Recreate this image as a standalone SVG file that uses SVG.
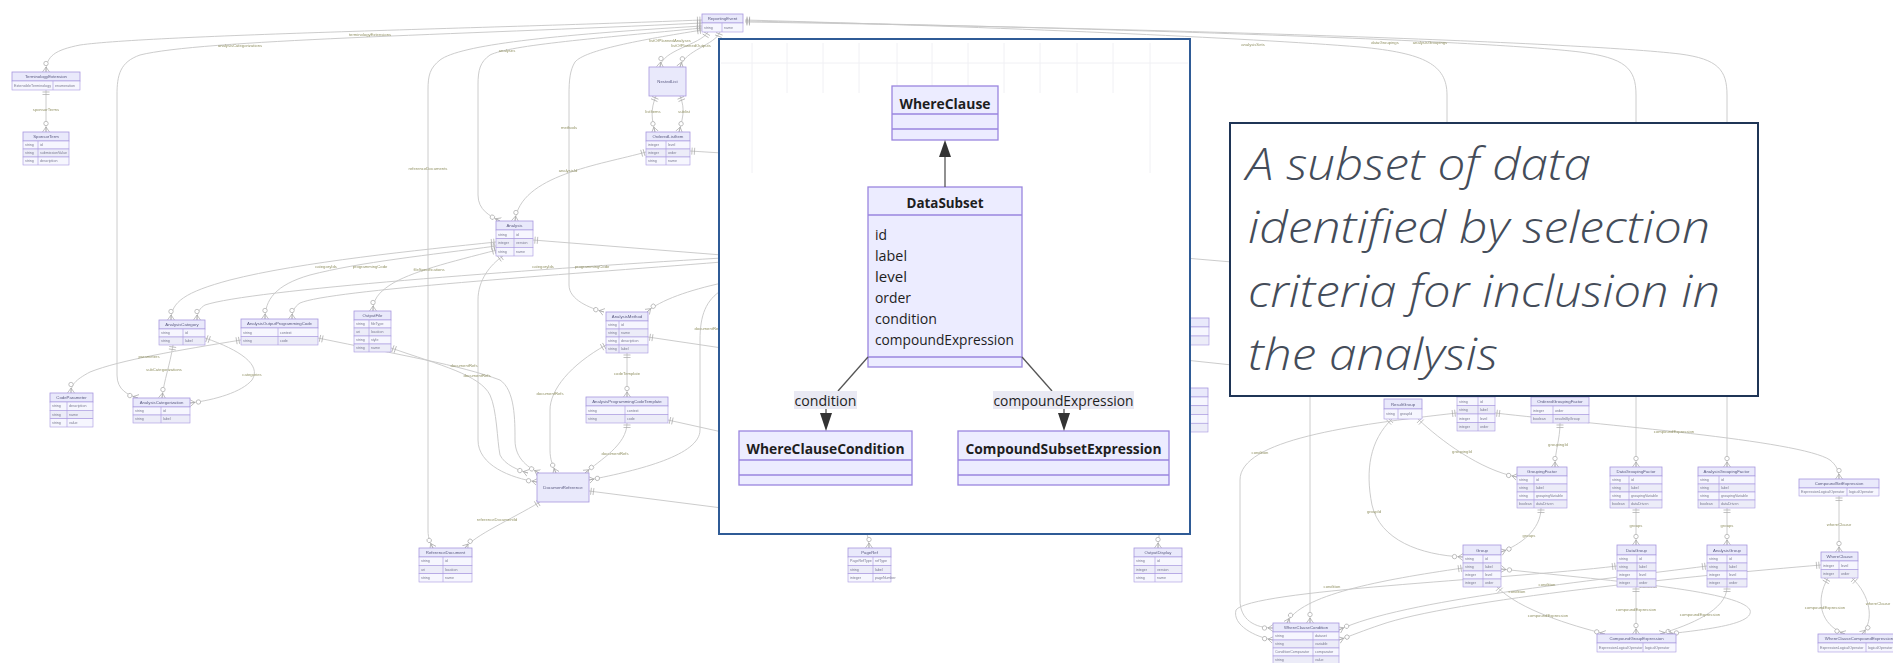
<svg xmlns="http://www.w3.org/2000/svg" width="1893" height="663" viewBox="0 0 1893 663">
<style>
  .c{fill:none;stroke:#c6c6c6;stroke-width:0.9}
  .eh{fill:#e9e9fb;stroke:#a797df;stroke-width:0.8}
  .ra{fill:#f6f6fe;stroke:#a797df;stroke-width:0.6}
  .rb{fill:#ececf8;stroke:#a797df;stroke-width:0.6}
  .cd{stroke:#a797df;stroke-width:0.6}
  .et{font-family:"Liberation Sans",Arial,sans-serif;font-size:4.3px;fill:#5a5a80;text-anchor:middle}
  .at{font-family:"Liberation Sans",Arial,sans-serif;font-size:3.6px;fill:#7a7a92}
  .el{font-family:"Liberation Sans",Arial,sans-serif;font-size:4.2px;fill:#939366;text-anchor:middle}
  .nb{fill:#ececff;stroke:#9a86df;stroke-width:1.3}
  .nt{font-family:"Open Sans","Noto Sans",sans-serif;font-weight:bold;font-size:15px;fill:#1e1e1e;text-anchor:middle}
  .na{font-family:"Open Sans","Noto Sans",sans-serif;font-size:15px;fill:#1e1e1e}
  .ie{fill:none;stroke:#555;stroke-width:1.3}
  .ah{fill:#333}
  .lb{fill:#e9e9f3}
  .ct{font-family:"Open Sans","Noto Sans",sans-serif;font-style:italic;font-weight:300;font-size:44px;fill:#444c59}
</style>
<defs>
  <filter id="soft" x="-2%" y="-2%" width="104%" height="104%"><feGaussianBlur stdDeviation="0.45"/></filter>
  <marker id="mZm" viewBox="0 -5 12 10" refX="12" refY="0" markerWidth="12" markerHeight="10" orient="auto-start-reverse" markerUnits="userSpaceOnUse">
    <circle cx="3.5" cy="0" r="2.2" fill="#fff" stroke="#a8a8a8" stroke-width="0.7"/>
    <path d="M7,0 L12,-3.5 M7,0 L12,3.5 M7,0 H12" fill="none" stroke="#a8a8a8" stroke-width="0.7"/>
  </marker>
  <marker id="mOne" viewBox="0 -5 12 10" refX="12" refY="0" markerWidth="12" markerHeight="10" orient="auto-start-reverse" markerUnits="userSpaceOnUse">
    <path d="M7.5,-3.5 V3.5 M10,-3.5 V3.5" fill="none" stroke="#a8a8a8" stroke-width="0.7"/>
  </marker>
</defs>
<rect width="1893" height="663" fill="#ffffff"/>

<!-- entity-relationship model underneath -->
<g id="background" filter="url(#soft)">
<g id="connectors">
  <path class="c" marker-start="url(#mOne)" marker-end="url(#mZm)" d="M702,20 C500,28 150,35 80,45 C55,50 46,56 46,72"/>
  <path class="c" marker-start="url(#mOne)" marker-end="url(#mZm)" d="M702,23 C450,35 200,40 140,55 C120,62 117,75 117,95 L117,375 C117,390 128,395 138,398"/>
  <path class="c" marker-start="url(#mOne)" marker-end="url(#mZm)" d="M702,26 C550,35 460,45 440,60 C430,68 428,75 428,90 L428,530 C428,540 431,544 433,548"/>
  <path class="c" marker-start="url(#mOne)" marker-end="url(#mZm)" d="M702,28 C600,38 510,45 490,55 C480,62 478,70 478,85 L478,195 C478,210 490,216 500,221"/>
  <path class="c" marker-start="url(#mOne)" marker-end="url(#mZm)" d="M702,30 C640,40 585,50 575,62 C570,70 569,80 569,95 L569,285 C569,300 590,308 604,312"/>
  <path class="c" marker-start="url(#mOne)" marker-end="url(#mZm)" d="M708,32 C700,45 662,50 660,67"/>
  <path class="c" marker-start="url(#mOne)" marker-end="url(#mZm)" d="M720,32 C715,45 685,50 680,67"/>
  <path class="c" marker-start="url(#mOne)" marker-end="url(#mZm)" d="M656,96 C650,110 652,120 655,132"/>
  <path class="c" marker-start="url(#mOne)" marker-end="url(#mZm)" d="M680,96 C686,110 682,120 679,132"/>
  <path class="c" marker-start="url(#mOne)" marker-end="url(#mZm)" d="M646,152 C600,165 520,175 515,221"/>
  <path class="c" marker-start="url(#mOne)" d="M690,151 L722,153"/>
  <path class="c" marker-start="url(#mOne)" d="M533,240 L722,255"/>
  <path class="c" marker-end="url(#mZm)" d="M722,258 C520,270 250,290 205,305 C200,308 197,312 197,320"/>
  <path class="c" marker-end="url(#mZm)" d="M722,262 C560,275 330,290 300,303 C294,307 292,312 292,319"/>
  <path class="c" marker-start="url(#mOne)" marker-end="url(#mZm)" d="M496,242 C420,250 300,262 230,280 C185,292 171,302 171,320"/>
  <path class="c" marker-start="url(#mOne)" marker-end="url(#mZm)" d="M496,246 C430,255 360,262 310,275 C275,285 265,300 265,319"/>
  <path class="c" marker-start="url(#mOne)" marker-end="url(#mZm)" d="M497,250 C450,262 410,272 390,285 C378,293 373,300 373,311"/>
  <path class="c" marker-start="url(#mOne)" marker-end="url(#mZm)" d="M318,338 C400,355 460,365 500,380 C515,390 515,420 515,440 C515,460 530,468 539,473"/>
  <path class="c" marker-start="url(#mOne)" marker-end="url(#mZm)" d="M391,348 C440,365 480,375 490,395 C497,410 497,440 500,455 C505,465 518,470 528,473"/>
  <path class="c" marker-start="url(#mOne)" marker-end="url(#mZm)" d="M503,256 C490,265 478,280 478,300 L478,440 C478,465 510,478 537,482"/>
  <path class="c" marker-start="url(#mOne)" marker-end="url(#mZm)" d="M606,345 C570,365 550,390 550,410 L550,450 C550,460 553,466 556,473"/>
  <path class="c" marker-start="url(#mOne)" marker-end="url(#mZm)" d="M627,353 L627,397"/>
  <path class="c" marker-start="url(#mOne)" marker-end="url(#mZm)" d="M627,423 C627,445 600,460 585,473"/>
  <path class="c" marker-end="url(#mZm)" d="M722,290 C706,300 700,315 700,340 L700,430 C700,455 640,470 589,480"/>
  <path class="c" marker-start="url(#mOne)" d="M648,337 L722,348"/>
  <path class="c" marker-start="url(#mOne)" d="M668,420 L722,432"/>
  <path class="c" marker-start="url(#mOne)" d="M589,491 L722,508"/>
  <path class="c" marker-end="url(#mZm)" d="M722,283 C690,290 660,300 647,312"/>
  <path class="c" marker-start="url(#mOne)" marker-end="url(#mZm)" d="M540,502 C510,520 475,535 465,548"/>
  <path class="c" marker-start="url(#mOne)" marker-end="url(#mZm)" d="M173,345 C170,365 164,380 162,398"/>
  <path class="c" marker-start="url(#mOne)" marker-end="url(#mZm)" d="M205,338 C240,350 262,365 252,380 C242,392 215,400 190,403"/>
  <path class="c" marker-start="url(#mOne)" marker-end="url(#mZm)" d="M241,340 C180,350 120,360 90,372 C75,380 71,385 71,393"/>
  <path class="c" marker-start="url(#mOne)" marker-end="url(#mZm)" d="M46,90 L46,132"/>
  <path class="c" marker-end="url(#mZm)" d="M862,520 C866,530 869,538 869,548"/>
  <path class="c" marker-end="url(#mZm)" d="M1162,520 C1160,530 1158,538 1158,548"/>
  <path class="c" d="M1185,258 L1232,262"/>
  <path class="c" d="M1185,360 L1232,365"/>
  <!-- right-hand part -->
  <path class="c" marker-start="url(#mOne)" d="M745,20 C1000,27 1250,38 1360,47 C1425,53 1447,65 1447,95 L1447,300"/>
  <path class="c" marker-start="url(#mOne)" marker-end="url(#mZm)" d="M745,21 C1100,28 1480,40 1580,52 C1625,58 1636,68 1636,95 L1636,467"/>
  <path class="c" marker-start="url(#mOne)" marker-end="url(#mZm)" d="M745,22 C1150,28 1580,42 1680,54 C1718,59 1727,70 1727,95 L1727,467"/>
  <path class="c" marker-end="url(#mZm)" d="M1447,300 C1447,330 1310,330 1310,360 L1310,623"/>
  <path class="c" marker-start="url(#mOne)" marker-end="url(#mZm)" d="M1392,419 C1370,440 1365,470 1372,505 C1380,540 1420,555 1463,557"/>
  <path class="c" marker-start="url(#mOne)" marker-end="url(#mZm)" d="M1418,419 C1440,440 1480,470 1517,477"/>
  <path class="c" marker-start="url(#mOne)" marker-end="url(#mZm)" d="M1560,423 C1560,440 1555,450 1555,467"/>
  <path class="c" marker-start="url(#mOne)" marker-end="url(#mZm)" d="M1541,508 C1541,530 1520,545 1501,552"/>
  <path class="c" marker-start="url(#mOne)" marker-end="url(#mZm)" d="M1636,508 L1636,545"/>
  <path class="c" marker-start="url(#mOne)" marker-end="url(#mZm)" d="M1727,508 L1727,545"/>
  <path class="c" marker-start="url(#mOne)" marker-end="url(#mZm)" d="M1495,413 C1600,425 1800,440 1830,460 C1836,465 1839,470 1839,479"/>
  <path class="c" marker-start="url(#mOne)" marker-end="url(#mZm)" d="M1839,496 L1839,552"/>
  <path class="c" marker-start="url(#mOne)" marker-end="url(#mZm)" d="M1828,578 C1815,600 1820,625 1845,634"/>
  <path class="c" marker-start="url(#mOne)" marker-end="url(#mZm)" d="M1852,578 C1870,595 1875,620 1862,634"/>
  <path class="c" marker-start="url(#mOne)" marker-end="url(#mZm)" d="M1457,413 C1350,425 1240,440 1240,480 L1240,600 C1240,620 1255,628 1273,628"/>
  <path class="c" marker-start="url(#mOne)" marker-end="url(#mZm)" d="M1463,568 C1380,580 1300,595 1287,623"/>
  <path class="c" marker-start="url(#mOne)" marker-end="url(#mZm)" d="M1617,566 C1500,580 1250,590 1236,610 C1232,625 1255,637 1273,640"/>
  <path class="c" marker-start="url(#mOne)" marker-end="url(#mZm)" d="M1707,566 C1600,580 1400,600 1339,630"/>
  <path class="c" marker-start="url(#mOne)" marker-end="url(#mZm)" d="M1821,565 C1700,575 1450,600 1380,625 C1365,630 1350,636 1339,640"/>
  <path class="c" marker-start="url(#mOne)" marker-end="url(#mZm)" d="M1497,587 C1520,610 1570,625 1605,634"/>
  <path class="c" marker-start="url(#mOne)" marker-end="url(#mZm)" d="M1636,587 L1636,634"/>
  <path class="c" marker-start="url(#mOne)" marker-end="url(#mZm)" d="M1727,587 C1727,610 1690,625 1660,634"/>
  <path class="c" marker-start="url(#mZm)" marker-end="url(#mZm)" d="M1501,569 C1600,580 1740,590 1750,610 C1755,625 1700,630 1668,634"/>
  <!-- relationship labels -->
  <text class="el" x="370" y="36">terminologyExtensions</text>
  <text class="el" x="240" y="47">analysisCategorizations</text>
  <text class="el" x="428" y="170">referenceDocuments</text>
  <text class="el" x="507" y="52">analyses</text>
  <text class="el" x="569" y="129">methods</text>
  <text class="el" x="670" y="42">listOfPlannedAnalyses</text>
  <text class="el" x="691" y="47">listOfPlannedOutputs</text>
  <text class="el" x="653" y="113">listItems</text>
  <text class="el" x="684" y="113">sublist</text>
  <text class="el" x="568" y="172">analysisId</text>
  <text class="el" x="543" y="268">categoryIds</text>
  <text class="el" x="592" y="268">programmingCode</text>
  <text class="el" x="326" y="268">categoryIds</text>
  <text class="el" x="370" y="268">programmingCode</text>
  <text class="el" x="429" y="271">fileSpecifications</text>
  <text class="el" x="464" y="367">documentRefs</text>
  <text class="el" x="477" y="377">documentRefs</text>
  <text class="el" x="550" y="395">documentRefs</text>
  <text class="el" x="627" y="375">codeTemplate</text>
  <text class="el" x="615" y="455">documentRefs</text>
  <text class="el" x="708" y="330">documentRefs</text>
  <text class="el" x="497" y="521">referenceDocumentId</text>
  <text class="el" x="164" y="371">subCategorizations</text>
  <text class="el" x="252" y="376">categories</text>
  <text class="el" x="149" y="358">parameters</text>
  <text class="el" x="46" y="111">sponsorTerms</text>
  <text class="el" x="1253" y="46">analysisSets</text>
  <text class="el" x="1385" y="44">dataGroupings</text>
  <text class="el" x="1430" y="44">analysisGroupings</text>
  <text class="el" x="1374" y="513">groupId</text>
  <text class="el" x="1462" y="453">groupingId</text>
  <text class="el" x="1558" y="446">groupingId</text>
  <text class="el" x="1529" y="537">groups</text>
  <text class="el" x="1636" y="527">groups</text>
  <text class="el" x="1727" y="527">groups</text>
  <text class="el" x="1674" y="433">compoundExpression</text>
  <text class="el" x="1839" y="526">whereClause</text>
  <text class="el" x="1825" y="609">compoundExpression</text>
  <text class="el" x="1878" y="605">whereClause</text>
  <text class="el" x="1260" y="454">condition</text>
  <text class="el" x="1332" y="588">condition</text>
  <text class="el" x="1547" y="586">condition</text>
  <text class="el" x="1517" y="593">condition</text>
  <text class="el" x="1548" y="617">compoundExpression</text>
  <text class="el" x="1636" y="611">compoundExpression</text>
  <text class="el" x="1700" y="616">compoundExpression</text>
  <text class="el" x="1648" y="588">subsetIds</text>
</g>

<g id="reportingEvent">
  <rect class="eh" x="702" y="14" width="41" height="9"/><rect class="ra" x="702" y="23" width="41" height="9"/>
  <line class="cd" x1="722" y1="23" x2="722" y2="32"/>
  <text class="et" x="722.5" y="20.3">ReportingEvent</text>
  <text class="at" x="704" y="29">string</text><text class="at" x="724" y="29">name</text>
</g>
<g id="terminologyExtension">
  <rect class="eh" x="12" y="72" width="68" height="9"/><rect class="ra" x="12" y="81" width="68" height="9"/>
  <line class="cd" x1="53" y1="81" x2="53" y2="90"/>
  <text class="et" x="46" y="78.3">TerminologyExtension</text>
  <text class="at" x="14" y="86.8" textLength="37">ExtensibleTerminology</text><text class="at" x="55" y="86.8">enumeration</text>
</g>
<g id="sponsorTerm">
  <rect class="eh" x="23" y="132" width="46" height="9"/>
  <rect class="ra" x="23" y="141" width="46" height="8"/><rect class="rb" x="23" y="149" width="46" height="8"/><rect class="ra" x="23" y="157" width="46" height="8"/>
  <line class="cd" x1="38" y1="141" x2="38" y2="165"/>
  <text class="et" x="46" y="138.3">SponsorTerm</text>
  <text class="at" x="25" y="146.3">string</text><text class="at" x="40" y="146.3">id</text>
  <text class="at" x="25" y="154.3">string</text><text class="at" x="40" y="154.3">submissionValue</text>
  <text class="at" x="25" y="162.3">string</text><text class="at" x="40" y="162.3">description</text>
</g>
<g id="nestedList">
  <rect class="eh" x="649" y="67" width="37" height="29"/>
  <text class="et" x="667.5" y="83">NestedList</text>
</g>
<g id="orderedListItem">
  <rect class="eh" x="646" y="132" width="44" height="9"/>
  <rect class="ra" x="646" y="141" width="44" height="8"/><rect class="rb" x="646" y="149" width="44" height="8"/><rect class="ra" x="646" y="157" width="44" height="8"/>
  <line class="cd" x1="666" y1="141" x2="666" y2="165"/>
  <text class="et" x="668" y="138.3">OrderedListItem</text>
  <text class="at" x="648" y="146.3">integer</text><text class="at" x="668" y="146.3">level</text>
  <text class="at" x="648" y="154.3">integer</text><text class="at" x="668" y="154.3">order</text>
  <text class="at" x="648" y="162.3">string</text><text class="at" x="668" y="162.3">name</text>
</g>
<g id="analysis">
  <rect class="eh" x="496" y="221" width="37" height="9"/>
  <rect class="ra" x="496" y="230" width="37" height="8.7"/><rect class="rb" x="496" y="238.7" width="37" height="8.6"/><rect class="ra" x="496" y="247.3" width="37" height="8.7"/>
  <line class="cd" x1="514" y1="230" x2="514" y2="256"/>
  <text class="et" x="514.5" y="227.3">Analysis</text>
  <text class="at" x="498" y="235.6">string</text><text class="at" x="516" y="235.6">id</text>
  <text class="at" x="498" y="244.3">integer</text><text class="at" x="516" y="244.3">version</text>
  <text class="at" x="498" y="253">string</text><text class="at" x="516" y="253">name</text>
</g>
<g id="analysisCategory">
  <rect class="eh" x="159" y="320" width="46" height="9"/>
  <rect class="ra" x="159" y="329" width="46" height="8"/><rect class="rb" x="159" y="337" width="46" height="8"/>
  <line class="cd" x1="183" y1="329" x2="183" y2="345"/>
  <text class="et" x="182" y="326.3">AnalysisCategory</text>
  <text class="at" x="161" y="334.3">string</text><text class="at" x="185" y="334.3">id</text>
  <text class="at" x="161" y="342.3">string</text><text class="at" x="185" y="342.3">label</text>
</g>
<g id="analysisOutputProgrammingCode">
  <rect class="eh" x="241" y="319" width="77" height="9"/>
  <rect class="ra" x="241" y="328" width="77" height="8.5"/><rect class="rb" x="241" y="336.5" width="77" height="8.5"/>
  <line class="cd" x1="278" y1="328" x2="278" y2="345"/>
  <text class="et" x="279.5" y="325.3">AnalysisOutputProgrammingCode</text>
  <text class="at" x="243" y="333.5">string</text><text class="at" x="280" y="333.5">context</text>
  <text class="at" x="243" y="342">string</text><text class="at" x="280" y="342">code</text>
</g>
<g id="outputFile">
  <rect class="eh" x="354" y="311" width="37" height="9"/>
  <rect class="ra" x="354" y="320" width="37" height="8"/><rect class="rb" x="354" y="328" width="37" height="8"/><rect class="ra" x="354" y="336" width="37" height="8"/><rect class="rb" x="354" y="344" width="37" height="8"/>
  <line class="cd" x1="369" y1="320" x2="369" y2="352"/>
  <text class="et" x="372.5" y="317.3">OutputFile</text>
  <text class="at" x="356" y="325.3">string</text><text class="at" x="371" y="325.3">fileType</text>
  <text class="at" x="356" y="333.3">uri</text><text class="at" x="371" y="333.3">location</text>
  <text class="at" x="356" y="341.3">string</text><text class="at" x="371" y="341.3">style</text>
  <text class="at" x="356" y="349.3">string</text><text class="at" x="371" y="349.3">name</text>
</g>
<g id="analysisMethod">
  <rect class="eh" x="606" y="312" width="42" height="9"/>
  <rect class="ra" x="606" y="321" width="42" height="8"/><rect class="rb" x="606" y="329" width="42" height="8"/><rect class="ra" x="606" y="337" width="42" height="8"/><rect class="rb" x="606" y="345" width="42" height="8"/>
  <line class="cd" x1="619" y1="321" x2="619" y2="353"/>
  <text class="et" x="627" y="318.3">AnalysisMethod</text>
  <text class="at" x="608" y="326.3">string</text><text class="at" x="621" y="326.3">id</text>
  <text class="at" x="608" y="334.3">string</text><text class="at" x="621" y="334.3">name</text>
  <text class="at" x="608" y="342.3">string</text><text class="at" x="621" y="342.3">description</text>
  <text class="at" x="608" y="350.3">string</text><text class="at" x="621" y="350.3">label</text>
</g>
<g id="analysisProgrammingCodeTemplate">
  <rect class="eh" x="586" y="397" width="82" height="9"/>
  <rect class="ra" x="586" y="406" width="82" height="8.5"/><rect class="rb" x="586" y="414.5" width="82" height="8.5"/>
  <line class="cd" x1="625" y1="406" x2="625" y2="423"/>
  <text class="et" x="627" y="403.3">AnalysisProgrammingCodeTemplate</text>
  <text class="at" x="588" y="411.5">string</text><text class="at" x="627" y="411.5">context</text>
  <text class="at" x="588" y="420">string</text><text class="at" x="627" y="420">code</text>
</g>
<g id="codeParameter">
  <rect class="eh" x="50" y="393" width="43" height="9"/>
  <rect class="ra" x="50" y="402" width="43" height="8.3"/><rect class="rb" x="50" y="410.3" width="43" height="8.4"/><rect class="ra" x="50" y="418.7" width="43" height="8.3"/>
  <line class="cd" x1="67" y1="402" x2="67" y2="427"/>
  <text class="et" x="71.5" y="399.3">CodeParameter</text>
  <text class="at" x="52" y="407.4">string</text><text class="at" x="69" y="407.4">description</text>
  <text class="at" x="52" y="415.8">string</text><text class="at" x="69" y="415.8">name</text>
  <text class="at" x="52" y="424.1">string</text><text class="at" x="69" y="424.1">value</text>
</g>
<g id="analysisCategorization">
  <rect class="eh" x="133" y="398" width="57" height="9"/>
  <rect class="ra" x="133" y="407" width="57" height="8"/><rect class="rb" x="133" y="415" width="57" height="8"/>
  <line class="cd" x1="161" y1="407" x2="161" y2="423"/>
  <text class="et" x="161.5" y="404.3">AnalysisCategorization</text>
  <text class="at" x="135" y="412.3">string</text><text class="at" x="163" y="412.3">id</text>
  <text class="at" x="135" y="420.3">string</text><text class="at" x="163" y="420.3">label</text>
</g>
<g id="documentReference">
  <rect class="eh" x="537" y="473" width="52" height="29"/>
  <text class="et" x="563" y="489">DocumentReference</text>
</g>
<g id="referenceDocument">
  <rect class="eh" x="419" y="548" width="53" height="9"/>
  <rect class="ra" x="419" y="557" width="53" height="8.3"/><rect class="rb" x="419" y="565.3" width="53" height="8.4"/><rect class="ra" x="419" y="573.7" width="53" height="8.3"/>
  <line class="cd" x1="443" y1="557" x2="443" y2="582"/>
  <text class="et" x="445.5" y="554.3">ReferenceDocument</text>
  <text class="at" x="421" y="562.4">string</text><text class="at" x="445" y="562.4">id</text>
  <text class="at" x="421" y="570.8">uri</text><text class="at" x="445" y="570.8">location</text>
  <text class="at" x="421" y="579.1">string</text><text class="at" x="445" y="579.1">name</text>
</g>
<g id="pageRef">
  <rect class="eh" x="848" y="548" width="43" height="9"/>
  <rect class="ra" x="848" y="557" width="43" height="8.3"/><rect class="rb" x="848" y="565.3" width="43" height="8.4"/><rect class="ra" x="848" y="573.7" width="43" height="8.3"/>
  <line class="cd" x1="873" y1="557" x2="873" y2="582"/>
  <text class="et" x="869.5" y="554.3">PageRef</text>
  <text class="at" x="850" y="562.4">PageRefType</text><text class="at" x="875" y="562.4">refType</text>
  <text class="at" x="850" y="570.8">string</text><text class="at" x="875" y="570.8">label</text>
  <text class="at" x="850" y="579.1">integer</text><text class="at" x="875" y="579.1">pageNumber</text>
</g>
<g id="outputDisplay">
  <rect class="eh" x="1134" y="548" width="48" height="9"/>
  <rect class="ra" x="1134" y="557" width="48" height="8.3"/><rect class="rb" x="1134" y="565.3" width="48" height="8.4"/><rect class="ra" x="1134" y="573.7" width="48" height="8.3"/>
  <line class="cd" x1="1155" y1="557" x2="1155" y2="582"/>
  <text class="et" x="1158" y="554.3">OutputDisplay</text>
  <text class="at" x="1136" y="562.4">string</text><text class="at" x="1157" y="562.4">id</text>
  <text class="at" x="1136" y="570.8">integer</text><text class="at" x="1157" y="570.8">version</text>
  <text class="at" x="1136" y="579.1">string</text><text class="at" x="1157" y="579.1">name</text>
</g>
<g id="output">
  <rect class="eh" x="1160" y="318" width="49" height="9"/>
  <rect class="ra" x="1160" y="327" width="49" height="9"/><rect class="rb" x="1160" y="336" width="49" height="9"/>
  <line class="cd" x1="1185" y1="327" x2="1185" y2="345"/>
</g>
<g id="displaySection">
  <rect class="eh" x="1160" y="388" width="48" height="9"/>
  <rect class="ra" x="1160" y="397" width="48" height="8.75"/><rect class="rb" x="1160" y="405.75" width="48" height="8.75"/><rect class="ra" x="1160" y="414.5" width="48" height="8.75"/><rect class="rb" x="1160" y="423.25" width="48" height="8.75"/>
  <line class="cd" x1="1185" y1="397" x2="1185" y2="432"/>
</g>
<g id="resultGroup">
  <rect class="eh" x="1384" y="399" width="38" height="10"/><rect class="ra" x="1384" y="409" width="38" height="10"/>
  <line class="cd" x1="1398" y1="409" x2="1398" y2="419"/>
  <text class="et" x="1403" y="405.8">ResultGroup</text>
  <text class="at" x="1386" y="415.3">string</text><text class="at" x="1400" y="415.3">groupId</text>
</g>
<g id="analysisSet">
  <rect class="eh" x="1457" y="388" width="38" height="9"/>
  <rect class="ra" x="1457" y="397" width="38" height="8.5"/><rect class="rb" x="1457" y="405.5" width="38" height="8.5"/><rect class="ra" x="1457" y="414" width="38" height="8.5"/><rect class="rb" x="1457" y="422.5" width="38" height="8.5"/>
  <line class="cd" x1="1478" y1="397" x2="1478" y2="431"/>
  <text class="at" x="1459" y="402.5">string</text><text class="at" x="1480" y="402.5">id</text>
  <text class="at" x="1459" y="411">string</text><text class="at" x="1480" y="411">label</text>
  <text class="at" x="1459" y="419.5">integer</text><text class="at" x="1480" y="419.5">level</text>
  <text class="at" x="1459" y="428">integer</text><text class="at" x="1480" y="428">order</text>
</g>
<g id="orderedGroupingFactor">
  <rect class="eh" x="1531" y="397" width="58" height="9"/>
  <rect class="ra" x="1531" y="406" width="58" height="8.5"/><rect class="rb" x="1531" y="414.5" width="58" height="8.5"/>
  <line class="cd" x1="1553" y1="406" x2="1553" y2="423"/>
  <text class="et" x="1560" y="403.3">OrderedGroupingFactor</text>
  <text class="at" x="1533" y="411.5">integer</text><text class="at" x="1555" y="411.5">order</text>
  <text class="at" x="1533" y="420">boolean</text><text class="at" x="1555" y="420">resultsByGroup</text>
</g>
<g id="groupingFactor">
  <rect class="eh" x="1517" y="467" width="50" height="9"/>
  <rect class="ra" x="1517" y="476" width="50" height="8"/><rect class="rb" x="1517" y="484" width="50" height="8"/><rect class="ra" x="1517" y="492" width="50" height="8"/><rect class="rb" x="1517" y="500" width="50" height="8"/>
  <line class="cd" x1="1534" y1="476" x2="1534" y2="508"/>
  <text class="et" x="1542" y="473.3">GroupingFactor</text>
  <text class="at" x="1519" y="481.3">string</text><text class="at" x="1536" y="481.3">id</text>
  <text class="at" x="1519" y="489.3">string</text><text class="at" x="1536" y="489.3">label</text>
  <text class="at" x="1519" y="497.3">string</text><text class="at" x="1536" y="497.3">groupingVariable</text>
  <text class="at" x="1519" y="505.3">boolean</text><text class="at" x="1536" y="505.3">dataDriven</text>
</g>
<g id="dataGroupingFactor">
  <rect class="eh" x="1610" y="467" width="52" height="9"/>
  <rect class="ra" x="1610" y="476" width="52" height="8"/><rect class="rb" x="1610" y="484" width="52" height="8"/><rect class="ra" x="1610" y="492" width="52" height="8"/><rect class="rb" x="1610" y="500" width="52" height="8"/>
  <line class="cd" x1="1629" y1="476" x2="1629" y2="508"/>
  <text class="et" x="1636" y="473.3">DataGroupingFactor</text>
  <text class="at" x="1612" y="481.3">string</text><text class="at" x="1631" y="481.3">id</text>
  <text class="at" x="1612" y="489.3">string</text><text class="at" x="1631" y="489.3">label</text>
  <text class="at" x="1612" y="497.3">string</text><text class="at" x="1631" y="497.3">groupingVariable</text>
  <text class="at" x="1612" y="505.3">boolean</text><text class="at" x="1631" y="505.3">dataDriven</text>
</g>
<g id="analysisGroupingFactor">
  <rect class="eh" x="1698" y="467" width="57" height="9"/>
  <rect class="ra" x="1698" y="476" width="57" height="8"/><rect class="rb" x="1698" y="484" width="57" height="8"/><rect class="ra" x="1698" y="492" width="57" height="8"/><rect class="rb" x="1698" y="500" width="57" height="8"/>
  <line class="cd" x1="1719" y1="476" x2="1719" y2="508"/>
  <text class="et" x="1726.5" y="473.3">AnalysisGroupingFactor</text>
  <text class="at" x="1700" y="481.3">string</text><text class="at" x="1721" y="481.3">id</text>
  <text class="at" x="1700" y="489.3">string</text><text class="at" x="1721" y="489.3">label</text>
  <text class="at" x="1700" y="497.3">string</text><text class="at" x="1721" y="497.3">groupingVariable</text>
  <text class="at" x="1700" y="505.3">boolean</text><text class="at" x="1721" y="505.3">dataDriven</text>
</g>
<g id="compoundSetExpression">
  <rect class="eh" x="1799" y="479" width="80" height="9"/><rect class="ra" x="1799" y="488" width="80" height="8"/>
  <line class="cd" x1="1847" y1="488" x2="1847" y2="496"/>
  <text class="et" x="1839" y="485.3">CompoundSetExpression</text>
  <text class="at" x="1801" y="493.3">ExpressionLogicalOperator</text><text class="at" x="1849" y="493.3">logicalOperator</text>
</g>
<g id="group">
  <rect class="eh" x="1463" y="545" width="38" height="10"/>
  <rect class="ra" x="1463" y="555" width="38" height="8"/><rect class="rb" x="1463" y="563" width="38" height="8"/><rect class="ra" x="1463" y="571" width="38" height="8"/><rect class="rb" x="1463" y="579" width="38" height="8"/>
  <line class="cd" x1="1483" y1="555" x2="1483" y2="587"/>
  <text class="et" x="1482" y="551.8">Group</text>
  <text class="at" x="1465" y="560.3">string</text><text class="at" x="1485" y="560.3">id</text>
  <text class="at" x="1465" y="568.3">string</text><text class="at" x="1485" y="568.3">label</text>
  <text class="at" x="1465" y="576.3">integer</text><text class="at" x="1485" y="576.3">level</text>
  <text class="at" x="1465" y="584.3">integer</text><text class="at" x="1485" y="584.3">order</text>
</g>
<g id="dataGroup">
  <rect class="eh" x="1617" y="545" width="39" height="10"/>
  <rect class="ra" x="1617" y="555" width="39" height="8"/><rect class="rb" x="1617" y="563" width="39" height="8"/><rect class="ra" x="1617" y="571" width="39" height="8"/><rect class="rb" x="1617" y="579" width="39" height="8"/>
  <line class="cd" x1="1637" y1="555" x2="1637" y2="587"/>
  <text class="et" x="1636.5" y="551.8">DataGroup</text>
  <text class="at" x="1619" y="560.3">string</text><text class="at" x="1639" y="560.3">id</text>
  <text class="at" x="1619" y="568.3">string</text><text class="at" x="1639" y="568.3">label</text>
  <text class="at" x="1619" y="576.3">integer</text><text class="at" x="1639" y="576.3">level</text>
  <text class="at" x="1619" y="584.3">integer</text><text class="at" x="1639" y="584.3">order</text>
</g>
<g id="analysisGroup">
  <rect class="eh" x="1707" y="545" width="40" height="10"/>
  <rect class="ra" x="1707" y="555" width="40" height="8"/><rect class="rb" x="1707" y="563" width="40" height="8"/><rect class="ra" x="1707" y="571" width="40" height="8"/><rect class="rb" x="1707" y="579" width="40" height="8"/>
  <line class="cd" x1="1727" y1="555" x2="1727" y2="587"/>
  <text class="et" x="1727" y="551.8">AnalysisGroup</text>
  <text class="at" x="1709" y="560.3">string</text><text class="at" x="1729" y="560.3">id</text>
  <text class="at" x="1709" y="568.3">string</text><text class="at" x="1729" y="568.3">label</text>
  <text class="at" x="1709" y="576.3">integer</text><text class="at" x="1729" y="576.3">level</text>
  <text class="at" x="1709" y="584.3">integer</text><text class="at" x="1729" y="584.3">order</text>
</g>
<g id="whereClauseBg">
  <rect class="eh" x="1821" y="552" width="37" height="9"/>
  <rect class="ra" x="1821" y="561" width="37" height="8.5"/><rect class="rb" x="1821" y="569.5" width="37" height="8.5"/>
  <line class="cd" x1="1839" y1="561" x2="1839" y2="578"/>
  <text class="et" x="1839.5" y="558.3">WhereClause</text>
  <text class="at" x="1823" y="566.5">integer</text><text class="at" x="1841" y="566.5">level</text>
  <text class="at" x="1823" y="575">integer</text><text class="at" x="1841" y="575">order</text>
</g>
<g id="whereClauseConditionBg">
  <rect class="eh" x="1273" y="623" width="66" height="9"/>
  <rect class="ra" x="1273" y="632" width="66" height="8"/><rect class="rb" x="1273" y="640" width="66" height="8"/><rect class="ra" x="1273" y="648" width="66" height="8"/><rect class="rb" x="1273" y="656" width="66" height="8"/>
  <line class="cd" x1="1313" y1="632" x2="1313" y2="664"/>
  <text class="et" x="1306" y="629.3">WhereClauseCondition</text>
  <text class="at" x="1275" y="637.3">string</text><text class="at" x="1315" y="637.3">dataset</text>
  <text class="at" x="1275" y="645.3">string</text><text class="at" x="1315" y="645.3">variable</text>
  <text class="at" x="1275" y="653.3">ConditionComparator</text><text class="at" x="1315" y="653.3">comparator</text>
  <text class="at" x="1275" y="661.3">string</text><text class="at" x="1315" y="661.3">value</text>
</g>
<g id="compoundGroupExpression">
  <rect class="eh" x="1597" y="634" width="79" height="9"/><rect class="ra" x="1597" y="643" width="79" height="9"/>
  <line class="cd" x1="1643" y1="643" x2="1643" y2="652"/>
  <text class="et" x="1636.5" y="640.3">CompoundGroupExpression</text>
  <text class="at" x="1599" y="648.8">ExpressionLogicalOperator</text><text class="at" x="1645" y="648.8">logicalOperator</text>
</g>
<g id="whereClauseCompoundExpression">
  <rect class="eh" x="1818" y="634" width="82" height="9"/><rect class="ra" x="1818" y="643" width="82" height="9"/>
  <line class="cd" x1="1866" y1="643" x2="1866" y2="652"/>
  <text class="et" x="1859" y="640.3">WhereClauseCompoundExpression</text>
  <text class="at" x="1820" y="648.8">ExpressionLogicalOperator</text><text class="at" x="1868" y="648.8">logicalOperator</text>
</g>
</g>

<!-- enlarged class view of DataSubset -->
<g id="inset">
  <rect x="719" y="39" width="471" height="495" fill="#ffffff" stroke="#2f5b96" stroke-width="2"/>
  <g stroke="#f0f0f4" stroke-width="1">
    <path d="M752,43V173 M787,43V93 M823,43V93 M859,43V93 M897,43V93 M932,43V93 M968,43V93 M1004,43V93 M1040,43V93 M1077,43V93 M1113,43V93 M1150,43V173"/>
    <path d="M721,63H1188"/>
  </g>
  <g id="whereClause">
    <rect class="nb" x="892" y="86" width="106" height="54"/>
    <line class="nb" x1="892" y1="114" x2="998" y2="114"/>
    <line class="nb" x1="892" y1="129" x2="998" y2="129"/>
    <text class="nt" x="945" y="109" textLength="91" lengthAdjust="spacingAndGlyphs">WhereClause</text>
  </g>
  <g id="dataSubset">
    <rect class="nb" x="868" y="187" width="154" height="180"/>
    <line class="nb" x1="868" y1="215" x2="1022" y2="215"/>
    <line class="nb" x1="868" y1="357" x2="1022" y2="357"/>
    <text class="nt" x="945" y="208" textLength="77" lengthAdjust="spacingAndGlyphs">DataSubset</text>
    <text class="na" x="875" y="240" textLength="12" lengthAdjust="spacingAndGlyphs">id</text>
    <text class="na" x="875" y="261" textLength="32" lengthAdjust="spacingAndGlyphs">label</text>
    <text class="na" x="875" y="282" textLength="32" lengthAdjust="spacingAndGlyphs">level</text>
    <text class="na" x="875" y="303" textLength="36" lengthAdjust="spacingAndGlyphs">order</text>
    <text class="na" x="875" y="324" textLength="62" lengthAdjust="spacingAndGlyphs">condition</text>
    <text class="na" x="875" y="345" textLength="139" lengthAdjust="spacingAndGlyphs">compoundExpression</text>
  </g>
  <g id="whereClauseCondition">
    <rect class="nb" x="739" y="431" width="173" height="54"/>
    <line class="nb" x1="739" y1="460" x2="912" y2="460"/>
    <line class="nb" x1="739" y1="475" x2="912" y2="475"/>
    <text class="nt" x="825.5" y="454" textLength="158" lengthAdjust="spacingAndGlyphs">WhereClauseCondition</text>
  </g>
  <g id="compoundSubsetExpression">
    <rect class="nb" x="958" y="431" width="211" height="54"/>
    <line class="nb" x1="958" y1="460" x2="1169" y2="460"/>
    <line class="nb" x1="958" y1="475" x2="1169" y2="475"/>
    <text class="nt" x="1063.5" y="454" textLength="196" lengthAdjust="spacingAndGlyphs">CompoundSubsetExpression</text>
  </g>
  <g id="classLinks">
    <path class="ie" d="M945,187 V157"/>
    <polygon class="ah" points="945,140 939,157 951,157"/>
    <path class="ie" d="M868,357 L838,391"/>
    <rect class="lb" x="794" y="391" width="63" height="18"/>
    <text class="na" x="794.5" y="406" textLength="62" lengthAdjust="spacingAndGlyphs">condition</text>
    <path class="ie" d="M826,409 V414"/>
    <polygon class="ah" points="826,431 820,413 832,413"/>
    <path class="ie" d="M1022,357 L1052,391"/>
    <rect class="lb" x="993" y="391" width="141" height="18"/>
    <text class="na" x="993.5" y="406" textLength="140" lengthAdjust="spacingAndGlyphs">compoundExpression</text>
    <path class="ie" d="M1064,409 V414"/>
    <polygon class="ah" points="1064,431 1058,413 1070,413"/>
  </g>
</g>

<!-- definition note -->
<g id="definitionNote">
  <rect x="1230" y="123" width="528" height="273" fill="#ffffff" stroke="#1f3556" stroke-width="2"/>
  <text class="ct" x="1246" y="180" textLength="345" lengthAdjust="spacingAndGlyphs">A subset of data</text>
  <text class="ct" x="1248" y="243" textLength="462" lengthAdjust="spacingAndGlyphs">identified by selection</text>
  <text class="ct" x="1248" y="307" textLength="472" lengthAdjust="spacingAndGlyphs">criteria for inclusion in</text>
  <text class="ct" x="1248" y="370" textLength="250" lengthAdjust="spacingAndGlyphs">the analysis</text>
</g>
</svg>
